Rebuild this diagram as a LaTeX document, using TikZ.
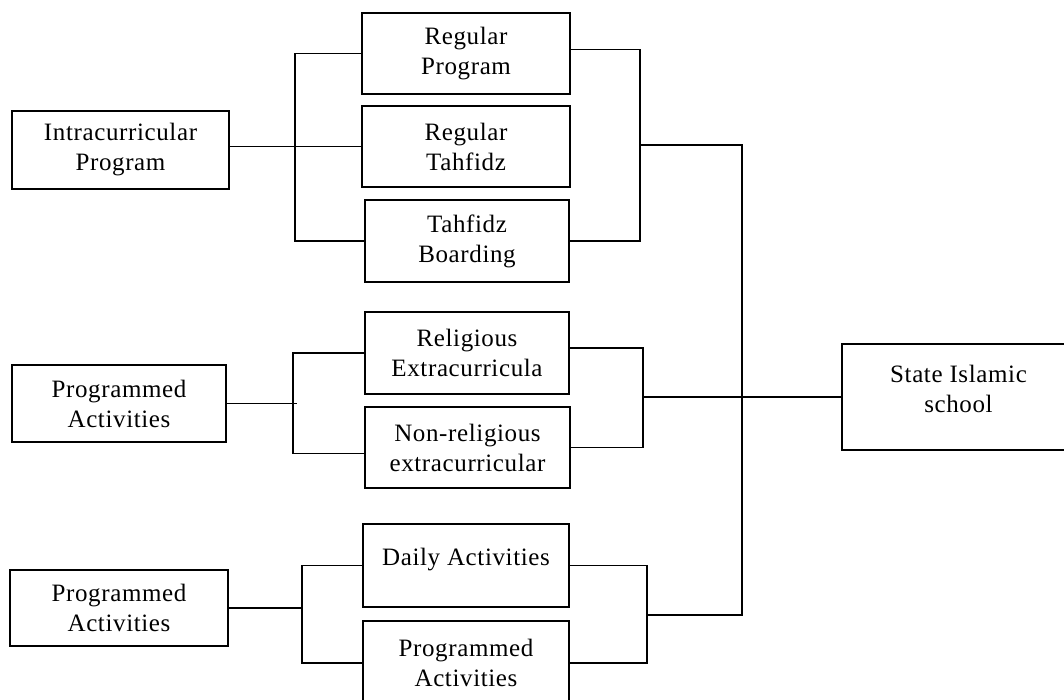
\documentclass[tikz,border=0pt]{standalone}
\usepackage{fontspec}
\setmainfont{Liberation Serif}[LetterSpace=2.5]
\begin{document}
\begin{tikzpicture}[x=1pt,y=-1pt,
  box/.style={draw, line width=1.5pt, inner sep=0pt, align=center, font=\fontsize{25}{30}\selectfont},
  conn/.style={line width=1.5pt}]
\useasboundingbox (0,0) rectangle (1064,700);
% left boxes
\node[box, minimum width=217pt, minimum height=78pt] (ip) at (120.5,150) {Intracurricular\\Program};
\node[box, minimum width=214pt, minimum height=77pt] (pa1) at (119,403.5) {Programmed\\Activities};
\node[box, minimum width=218pt, minimum height=76pt] (pa2) at (119,608) {Programmed\\Activities};
% middle boxes
\node[box, minimum width=208pt, minimum height=81pt] (rp) at (466,53.5) {Regular\\Program};
\node[box, minimum width=208pt, minimum height=81pt] (rt) at (466,146.5) {Regular\\Tahfidz};
\node[box, minimum width=204pt, minimum height=82pt] (tb) at (467,241) {Tahfidz\\Boarding};
\node[box, minimum width=204pt, minimum height=82pt] (re) at (467,353) {Religious\\Extracurricula};
\node[box, minimum width=205pt, minimum height=81pt] (nr) at (467.5,447.5) {Non-religious\\extracurricular};
\node[box, minimum width=206pt, minimum height=83pt, text depth=18pt] (da) at (466,565.5) {Daily Activities};
\node[box, minimum width=206pt, minimum height=84pt] (pa3) at (466,663) {Programmed\\Activities};
% right box
\node[box, minimum width=233pt, minimum height=106pt, text depth=17pt] (sis) at (958.5,397) {State Islamic\\school};
% helper coordinates
\coordinate (l1) at (295,0);
\coordinate (r1) at (640,0);
\coordinate (l2) at (293,0);
\coordinate (r2) at (643,0);
\coordinate (l3) at (302,0);
\coordinate (r3) at (647,0);
\coordinate (m1) at (742,145);
\coordinate (m3) at (742,615);
% group 1
\draw[conn] (rp.west) -| (l1 |- tb.west) -- (tb.west);
\draw[conn] (ip.east |- rt.west) -- (rt.west);
\draw[conn] ([yshift=4pt]rp.east) -| (r1 |- tb.east) -- (tb.east);
\draw[conn] (r1 |- m1) -- (m1) -- (m3) -- (r3 |- m3);
% group 2
\draw[conn] (pa1.east) -- ([xshift=4pt]l2 |- pa1.east);
\draw[conn] (re.west) -| ([yshift=-6pt]l2 |- nr.west) -- ([yshift=-6pt]nr.west);
\draw[conn] ([yshift=5pt]re.east) -| (r2 |- nr.east) -- (nr.east);
\draw[conn] (r2 |- sis.west) -- (sis.west);
% group 3
\draw[conn] (pa2.east) -- (l3 |- pa2.east);
\draw[conn] (da.west) -| (l3 |- pa3.west) -- (pa3.west);
\draw[conn] (da.east) -| (r3 |- pa3.east) -- (pa3.east);
\end{tikzpicture}
\end{document}
